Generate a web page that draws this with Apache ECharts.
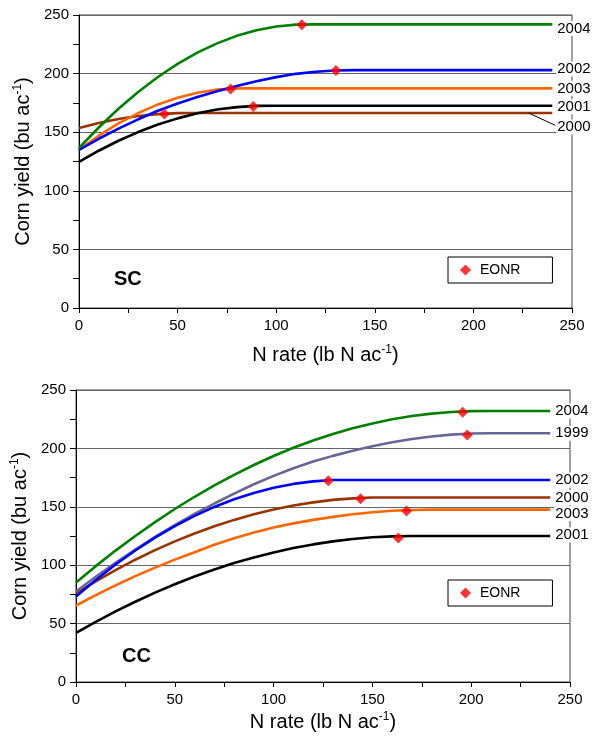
<!DOCTYPE html>
<html><head><meta charset="utf-8">
<script src="https://cdn.jsdelivr.net/npm/echarts@6/dist/echarts.min.js"></script>
<style>html,body{margin:0;padding:0;background:#fff}#c{width:595px;height:745px}</style>
</head><body><div id="c"></div>
<script>
// N rate (lb N/ac) sample points
const nRate = [0,10,20,30,40,50,60,70,80,90,100,110,120,130,140,150,160,170,180,190,200,210,220,230,240];

// SC (soybean-corn) yields, bu/ac
const sc2004 = [136.5,154,170,184.3,197.1,208.3,217.9,225.8,232.2,237,240.2,241.8,242,242,242,242,242,242,242,242,242,242,242,242,242];
const sc2002 = [135,144.4,153,161,168.3,174.5,180,185,189.4,193.4,197,199.8,201.6,202.7,203,203,203,203,203,203,203,203,203,203,203];
const sc2003 = [135,147,157.5,166.3,173.7,179.4,183.6,186.3,187.4,187.4,187.4,187.4,187.4,187.4,187.4,187.4,187.4,187.4,187.4,187.4,187.4,187.4,187.4,187.4,187.4];
const sc2001 = [124.6,134.2,142.7,150.1,156.5,161.8,166.1,169.3,171.4,172.5,172.6,172.6,172.6,172.6,172.6,172.6,172.6,172.6,172.6,172.6,172.6,172.6,172.6,172.6,172.6];
const sc2000 = [153.6,157.8,161.2,163.8,165.4,166.3,166.4,166.4,166.4,166.4,166.4,166.4,166.4,166.4,166.4,166.4,166.4,166.4,166.4,166.4,166.4,166.4,166.4,166.4,166.4];
const scEonr = [[113,241.7],[130.3,202.7],[76.9,186.9],[88.4,172],[43.3,165.5]];

// CC (corn-corn) yields, bu/ac
const cc2004 = [85.2,99.2,112.5,125,136.9,148.1,158.6,168.3,177.4,185.8,193.5,200.5,206.8,212.4,217.2,221.4,224.9,227.7,229.8,231.2,231.9,232,232,232,232];
const cc1999 = [77.5,90.1,102.1,113.4,124.2,134.3,143.9,152.8,161.3,169.3,176.5,183,188.7,193.6,198,201.9,205.3,208.1,210.2,211.8,212.7,213,213,213,213];
const cc2002 = [73.2,87.4,100.6,112.6,123.6,133.4,142.2,149.9,156.4,161.9,166.3,169.6,171.8,172.9,173,173,173,173,173,173,173,173,173,173,173];
const cc2000 = [76,86.2,95.8,104.7,112.9,120.4,127.2,133.3,138.8,143.6,147.7,151.1,153.8,155.9,157.2,157.9,158,158,158,158,158,158,158,158,158];
const cc2003 = [65.5,74.4,82.7,90.6,97.9,104.8,111.1,117.5,123,128,132.3,135.8,138.8,141.4,143.6,145.4,146.6,147.3,147.6,147.6,147.6,147.6,147.6,147.6,147.6];
const cc2001 = [42,51.5,60.4,68.7,76.5,83.7,90.3,96.3,101.8,106.6,110.9,114.7,117.8,120.4,122.4,123.9,124.7,125,125,125,125,125,125,125,125];
const ccEonr = [[195.7,230.9],[198,211.5],[127.7,172.4],[144,156.8],[167.3,146.5],[163.1,123.2]];

const xTicks = {min:0, max:250, interval:50};
const yTicks = {min:0, max:250, interval:50};

const FONT = "'Liberation Sans', Arial, sans-serif";
const pair = arr => arr.map((v,i)=>[nRate[i], v]);

function lineSeries(name, vals, color, gi, dy, extra){
  return Object.assign({
    type:'line', name:name, xAxisIndex:gi, yAxisIndex:gi,
    data: pair(vals), showSymbol:false, smooth:false,
    lineStyle:{color:color, width:2.6}, itemStyle:{color:color},
    endLabel:{show:true, formatter:name, color:'#000', fontFamily:FONT, fontSize:15,
      distance:4, offset:[0,dy], backgroundColor:'#fff', padding:[0,1]},
    emphasis:{disabled:true}, z:2
  }, extra||{});
}

function xAxis(gi, gap){
  return {type:'value', gridIndex:gi, min:xTicks.min, max:xTicks.max, interval:xTicks.interval,
    name:'{a|N rate (lb N ac}{s|-1}{a|)}', nameLocation:'middle', nameGap:gap,
    nameTextStyle:{rich:{a:{fontFamily:FONT,fontSize:20,color:'#000'},s:{fontFamily:FONT,fontSize:12,color:'#000',verticalAlign:'top',padding:[0,0,10,0]}}},
    axisLine:{show:true,lineStyle:{color:'#000',width:1}},
    axisTick:{show:true,length:5,lineStyle:{color:'#000'}},
    minorTick:{show:true,splitNumber:2,length:5,lineStyle:{color:'#000'}},
    axisLabel:{fontFamily:FONT,fontSize:15,color:'#000',margin:10},
    splitLine:{show:false}};
}
function yAxis(gi){
  return {type:'value', gridIndex:gi, min:yTicks.min, max:yTicks.max, interval:yTicks.interval,
    name:'{a|Corn yield (bu ac}{s|-1}{a|)}', nameLocation:'middle', nameGap:39, nameRotate:90,
    nameTextStyle:{rich:{a:{fontFamily:FONT,fontSize:20,color:'#000'},s:{fontFamily:FONT,fontSize:12,color:'#000',verticalAlign:'top',padding:[0,0,10,0]}}},
    axisLine:{show:true,lineStyle:{color:'#000',width:1}},
    axisTick:{show:true,length:6,lineStyle:{color:'#000'}},
    minorTick:{show:true,splitNumber:2,length:6,lineStyle:{color:'#000'}},
    axisLabel:{fontFamily:FONT,fontSize:15,color:'#000',margin:10},
    splitLine:{show:true,lineStyle:{color:'#666',width:1}}};
}

const eonrStyle = {type:'scatter', name:'EONR', symbol:'diamond', symbolSize:11,
  itemStyle:{color:'#FF0000'}, z:5, emphasis:{disabled:true}};

const legendBase = {data:['EONR'], left:448, orient:'horizontal', icon:'diamond', itemWidth:11, itemHeight:11,
  borderColor:'#000', borderWidth:1, padding:[6,32,6,12], itemGap:6,
  textStyle:{fontFamily:FONT,fontSize:14,color:'#000',padding:[0,0,0,4]}, selectedMode:false};

const chart = echarts.init(document.getElementById('c'), null, {renderer:'canvas'});
chart.setOption({
  animation:false,
  backgroundColor:'#fff',
  grid:[
    {left:79, top:15, width:493, height:293, show:true, borderColor:'#444', borderWidth:1, backgroundColor:'transparent'},
    {left:76, top:390, width:494, height:292, show:true, borderColor:'#444', borderWidth:1, backgroundColor:'transparent'}
  ],
  xAxis:[xAxis(0, 36), xAxis(1, 29)],
  yAxis:[yAxis(0), yAxis(1)],
  legend:[
    Object.assign({}, legendBase, {top:257}),
    Object.assign({}, legendBase, {top:580})
  ],
  graphic:[
    {type:'text', left:114, top:269, style:{text:'SC', font:'bold 20px '+FONT, fill:'#000'}},
    {type:'text', left:122, top:646, style:{text:'CC', font:'bold 20px '+FONT, fill:'#000'}}
  ],
  series:[
    lineSeries('2000', sc2000, '#993300', 0, 14, {
      markLine:{silent:true, symbol:'none', label:{show:false}, lineStyle:{color:'#000',width:1,type:'solid'},
        data:[[{coord:[nRate[nRate.length-1]-12, sc2000[sc2000.length-1]]},{coord:[nRate[nRate.length-1]+1.5, sc2000[sc2000.length-1]-10.5]}]]}
    }),
    lineSeries('2001', sc2001, '#000000', 0, 1),
    lineSeries('2003', sc2003, '#FF6600', 0, 0),
    lineSeries('2002', sc2002, '#0000FF', 0, -1),
    lineSeries('2004', sc2004, '#008000', 0, 4),
    Object.assign({}, eonrStyle, {xAxisIndex:0, yAxisIndex:0, data:scEonr}),

    lineSeries('2001', cc2001, '#000000', 1, -1),
    lineSeries('2003', cc2003, '#FF6600', 1, 4),
    lineSeries('2000', cc2000, '#993300', 1, 0),
    lineSeries('1999', cc1999, '#666699', 1, 0),
    lineSeries('2002', cc2002, '#0000FF', 1, 0),
    lineSeries('2004', cc2004, '#008000', 1, 0),
    Object.assign({}, eonrStyle, {xAxisIndex:1, yAxisIndex:1, data:ccEonr})
  ]
});
</script></body></html>
